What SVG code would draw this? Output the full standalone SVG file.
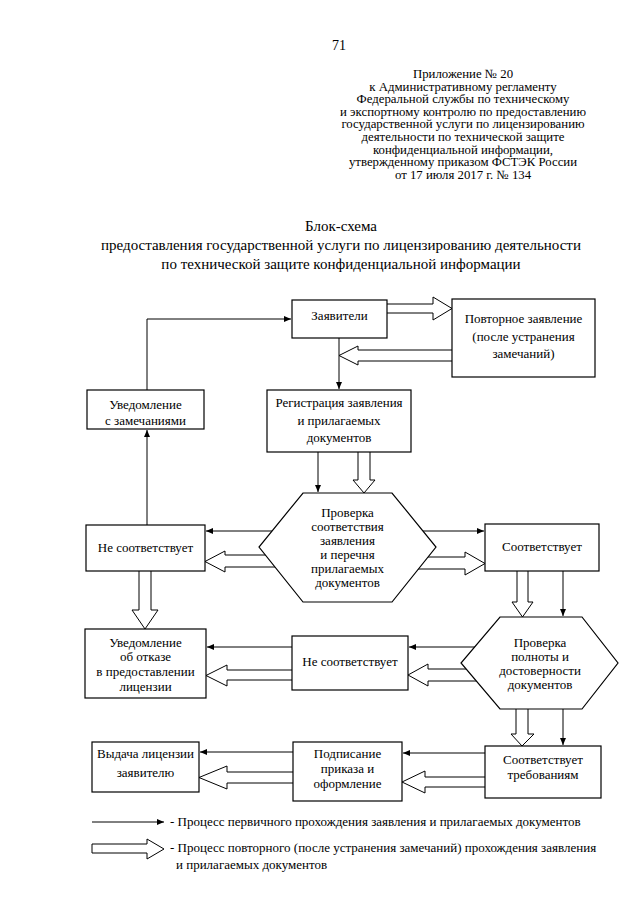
<svg xmlns="http://www.w3.org/2000/svg" width="640" height="905" viewBox="0 0 640 905">
<defs>
<marker id="ah" markerWidth="8" markerHeight="6" refX="7" refY="3" orient="auto" markerUnits="userSpaceOnUse">
<path d="M0,0 L7,3 L0,6 z" fill="#000"/>
</marker>
<style>
text{font-family:"Liberation Serif","Times New Roman",serif;font-size:13px;fill:#000}
.c{text-anchor:middle}
.t{font-size:15px}
.h{font-size:12.8px}
.box{fill:#fff;stroke:#000;stroke-width:1.2}
.ln{fill:none;stroke:#000;stroke-width:1;marker-end:url(#ah)}
.ha{fill:#fff;stroke:#000;stroke-width:1}
</style>
</defs>
<rect width="640" height="905" fill="#fff"/>

<g id="header">
<text x="339" y="50" class="c" style="font-size:14px">71</text>
<text x="463" y="78" class="c h">Приложение № 20</text>
<text x="463" y="90.6" class="c h">к Административному регламенту</text>
<text x="463" y="103.2" class="c h">Федеральной службы по техническому</text>
<text x="463" y="115.8" class="c h">и экспортному контролю по предоставлению</text>
<text x="463" y="128.4" class="c h">государственной услуги по лицензированию</text>
<text x="463" y="141" class="c h">деятельности по технической защите</text>
<text x="463" y="153.6" class="c h">конфиденциальной информации,</text>
<text x="463" y="166.2" class="c h">утвержденному приказом ФСТЭК России</text>
<text x="463" y="179" class="c h">от 17 июля 2017 г. № 134</text>
</g>

<g id="title">
<text x="341" y="231" class="c t">Блок-схема</text>
<text x="341" y="250" class="c t">предоставления государственной услуги по лицензированию деятельности</text>
<text x="341" y="269" class="c t">по технической защите конфиденциальной информации</text>
</g>

<g id="connectors">
<path class="ln" d="M147,390 V319 H291"/>
<path class="ln" d="M339,338 V389"/>
<path class="ln" d="M318,452 V492"/>
<path class="ln" d="M147,525 V430"/>
<path class="ln" d="M300,531 H206"/>
<path class="ln" d="M400,531 H484"/>
<path class="ln" d="M563,571 V616"/>
<path class="ln" d="M490,647 H409"/>
<path class="ln" d="M292,647 H207"/>
<path class="ln" d="M563,705 V745"/>
<path class="ln" d="M485,753 H403"/>
<path class="ln" d="M293,752 H200"/>
<path class="ha" d="M387,304 H433 V297 L452,308.5 L433,320 V313 H387"/>
<path class="ha" d="M452,350 H358 V346 L339,355.5 L358,365 V361 H452"/>
<path class="ha" d="M358,452 V480 H353 L364,493 L375,480 H370 V452"/>
<path class="ha" d="M290,555 H225 V551 L205,561.5 L225,572 V567 H290"/>
<path class="ha" d="M400,557 H465 V552 L485,563.5 L465,575 V569 H400"/>
<path class="ha" d="M517,571 V602 H512 L522.5,617 L533,602 H528 V571"/>
<path class="ha" d="M490,669 H428 V664 L408,675 L428,686 V681 H490"/>
<path class="ha" d="M292,670 H227 V665 L206,675.5 L227,686 V680 H292"/>
<path class="ha" d="M139,571 V610 H132 L145,629 L158,610 H151 V571"/>
<path class="ha" d="M516,705 V734 H511 L522,746 L534,734 H528 V705"/>
<path class="ha" d="M485,777 H425 V771 L402,782 L425,793 V787 H485"/>
<path class="ha" d="M293,772 H227 V766 L199,777.5 L227,789 V783 H293"/>
</g>

<g id="n-zayaviteli">
<rect class="box" x="292" y="300" width="95" height="38"/>
<text x="339.5" y="320" class="c">Заявители</text>
</g>
<g id="n-povtornoe">
<rect class="box" x="452" y="299" width="143" height="78"/>
<text x="523.5" y="323" class="c">Повторное заявление</text>
<text x="523.5" y="341" class="c">(после устранения</text>
<text x="523.5" y="358" class="c">замечаний)</text>
</g>
<g id="n-uved-zam">
<rect class="box" x="87" y="390" width="117" height="39"/>
<text x="145.5" y="409" class="c">Уведомление</text>
<text x="145.5" y="425" class="c">с замечаниями</text>
</g>
<g id="n-registr">
<rect class="box" x="267" y="390" width="144" height="62"/>
<text x="339" y="407" class="c">Регистрация заявления</text>
<text x="339" y="425" class="c">и прилагаемых</text>
<text x="339" y="442" class="c">документов</text>
</g>
<g id="n-proverka1">
<polygon class="box" points="303,493 392,493 436,547 392,602 303,602 259,547"/>
<text x="347.5" y="517" class="c">Проверка</text>
<text x="347.5" y="531" class="c">соответствия</text>
<text x="347.5" y="545" class="c">заявления</text>
<text x="347.5" y="559" class="c">и перечня</text>
<text x="347.5" y="573" class="c">прилагаемых</text>
<text x="347.5" y="587" class="c">документов</text>
</g>
<g id="n-ne-sootv1">
<rect class="box" x="86" y="525" width="119" height="46"/>
<text x="145.5" y="552" class="c">Не соответствует</text>
</g>
<g id="n-sootv">
<rect class="box" x="485" y="524" width="114" height="47"/>
<text x="542" y="551" class="c">Соответствует</text>
</g>
<g id="n-proverka2">
<polygon class="box" points="500,617 582,617 618,663 582,709 500,709 461,663"/>
<text x="540" y="647" class="c">Проверка</text>
<text x="540" y="661" class="c">полноты и</text>
<text x="540" y="675" class="c">достоверности</text>
<text x="540" y="689" class="c">документов</text>
</g>
<g id="n-ne-sootv2">
<rect class="box" x="292" y="636" width="116" height="54"/>
<text x="350" y="666" class="c">Не соответствует</text>
</g>
<g id="n-uved-otkaz">
<rect class="box" x="85" y="629" width="121" height="69"/>
<text x="145.5" y="647" class="c">Уведомление</text>
<text x="145.5" y="661" class="c">об отказе</text>
<text x="145.5" y="676" class="c">в предоставлении</text>
<text x="145.5" y="691" class="c">лицензии</text>
</g>
<g id="n-vydacha">
<rect class="box" x="92" y="742" width="107" height="50"/>
<text x="145.5" y="758" class="c">Выдача лицензии</text>
<text x="145.5" y="777" class="c">заявителю</text>
</g>
<g id="n-podpisanie">
<rect class="box" x="293" y="742" width="109" height="59"/>
<text x="347.5" y="758" class="c">Подписание</text>
<text x="347.5" y="773" class="c">приказа и</text>
<text x="347.5" y="788" class="c">оформление</text>
</g>
<g id="n-sootv-treb">
<rect class="box" x="485" y="746" width="116" height="52"/>
<text x="543" y="764" class="c">Соответствует</text>
<text x="543" y="779" class="c">требованиям</text>
</g>

<g id="legend">
<path class="ln" d="M92,822 H164"/>
<text x="170" y="826">- Процесс первичного прохождения заявления и прилагаемых документов</text>
<path class="ha" d="M92,844 H147 V839 L164,849 L147,859 V853 H92 Z"/>
<text x="170" y="852">- Процесс повторного (после устранения замечаний) прохождения заявления</text>
<text x="176" y="869">и прилагаемых документов</text>
</g>
</svg>
